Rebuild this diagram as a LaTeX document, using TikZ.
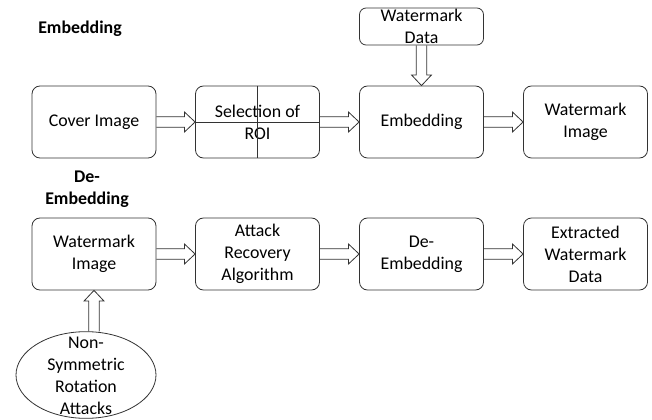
\documentclass[tikz,border=0pt]{standalone}
\usepackage{fontspec}
\setmainfont{Carlito}
\usetikzlibrary{calc}
\usetikzlibrary{shapes.geometric}

\tikzset{
    stage/.style={draw=black!80, line width=0.6pt, rounded corners=6pt,
        minimum width=93pt, minimum height=54pt, align=center,
        font=\fontsize{13.4}{16.5}\selectfont},
    heading/.style={align=center, font=\fontsize{13.4}{16.5}\selectfont\bfseries},
    arrowline/.style={draw=black!80, line width=0.6pt, line join=miter}
}

% hollow block arrow from #1 to #2
\newcommand{\hollowarrow}[2]{%
    \coordinate (hb) at ($(#2)!8pt!(#1)$);
    \draw[arrowline] ($(#1)!3.9pt!90:(#2)$) -- ($(hb)!3.9pt!-90:(#1)$)
        -- ($(hb)!7.5pt!-90:(#1)$) -- (#2) -- ($(hb)!7.5pt!90:(#1)$)
        -- ($(hb)!3.9pt!90:(#1)$) -- ($(#1)!3.9pt!-90:(#2)$);
}

\begin{document}
\begin{tikzpicture}[x=0.75pt, y=-0.75pt]
    \useasboundingbox (0, 0) rectangle (652, 420);

    % embedding
    \node[heading] (embtitle) at (80, 29) {Embedding};
    \node[stage] (cover) at (94, 122) {Cover Image};
    \node[stage] (roi) at (257.5, 122) {Selection of\\ROI};
    \draw[arrowline] (roi.north) -- (roi.south);
    \draw[arrowline] (roi.west) -- (roi.east);
    \node[stage] (embed) at (421.5, 122) {Embedding};
    \node[stage] (wmimage) at (585.5, 122) {Watermark\\Image};
    \node[stage, minimum height=27.75pt, rounded corners=5pt] (wmdata) at (421.5, 26.5) {};
    \node[align=center, font=\fontsize{13.4}{16.5}\selectfont] (wmdatatext) at (wmdata) {Watermark\\Data};

    \hollowarrow{cover.east}{roi.west}
    \hollowarrow{roi.east}{embed.west}
    \hollowarrow{embed.east}{wmimage.west}
    \hollowarrow{wmdata.south}{embed.north}

    % de-embedding
    \node[heading] (detitle) at (87, 189) {De-\\Embedding};
    \node[stage] (wmin) at (94, 254) {Watermark\\Image};
    \node[stage] (attack) at (257.5, 254) {Attack\\Recovery\\Algorithm};
    \node[stage] (deembed) at (421.5, 254) {De-\\Embedding};
    \node[stage] (extract) at (585.5, 254) {Extracted\\Watermark\\Data};
    \node[draw=black!80, line width=0.6pt, ellipse, minimum width=105pt, minimum height=65pt] (attacks) at (86, 375) {};
    \node[align=center, font=\fontsize{13.4}{16.5}\selectfont] (attackstext) at (86, 376) {Non-\\Symmetric\\Rotation\\Attacks};

    \hollowarrow{wmin.east}{attack.west}
    \hollowarrow{attack.east}{deembed.west}
    \hollowarrow{deembed.east}{extract.west}
    \hollowarrow{wmin.south |- attacks.north}{wmin.south}
\end{tikzpicture}
\end{document}
